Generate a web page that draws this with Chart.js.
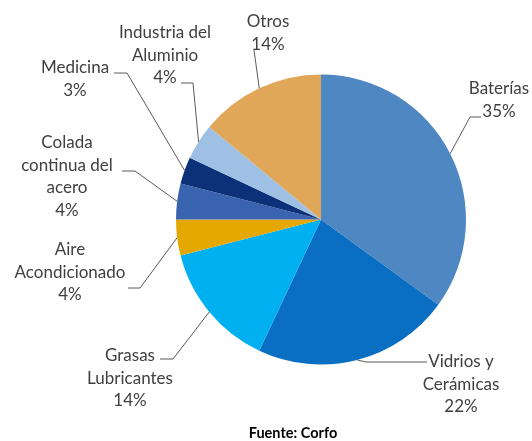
<!DOCTYPE html>
<html>
<head>
<meta charset="utf-8">
<script src="https://cdn.jsdelivr.net/npm/chart.js@4/dist/chart.umd.min.js"></script>
<style>
  html, body { margin: 0; padding: 0; background: #ffffff; }
  #wrap { position: relative; width: 532px; height: 441px; }
</style>
</head>
<body>
<div id="wrap"><canvas id="c" width="532" height="441"></canvas></div>
<script>
// ---- data ----
const categories = ['Baterías', 'Vidrios y Cerámicas', 'Grasas Lubricantes', 'Aire Acondicionado',
                    'Colada continua del acero', 'Medicina', 'Industria del Aluminio', 'Otros'];
const values = [35, 22, 14, 4, 4, 3, 4, 14];
const labelLines = [
  ['Baterías'],
  ['Vidrios y', 'Cerámicas'],
  ['Grasas', 'Lubricantes'],
  ['Aire', 'Acondicionado'],
  ['Colada', 'continua del', 'acero'],
  ['Medicina'],
  ['Industria del', 'Aluminio'],
  ['Otros']
];
const sourceNote = 'Fuente: Corfo';

// ---- styles / layout ----
const colors = ['#4F87C2', '#0A6FC2', '#00B0F0', '#E5A800', '#3A64B0', '#0B3278', '#9EC0E4', '#E0A758'];
const textColor = '#404040';
const lineColor = '#5a5a5a';
const FONT = '17px Lato, "Open Sans", sans-serif';
const LH = 22.5;
// text center x, first line middle y, elbow point, end x of horizontal tick
const labelLayout = [
  { cx: 499, y0: 89,  elbow: [470, 117], endX: 481 },
  { cx: 461, y0: 362, elbow: [366, 362], endX: 427 },
  { cx: 130, y0: 356, elbow: [173, 359], endX: 160 },
  { cx: 70,  y0: 250, elbow: [140, 288], endX: 128 },
  { cx: 67,  y0: 143, elbow: [135, 171], endX: 122 },
  { cx: 75,  y0: 68,  elbow: [127, 73],  endX: 114 },
  { cx: 165, y0: 33,  elbow: [193, 83],  endX: 181 },
  { cx: 268, y0: 22,  elbow: [254, 50],  endX: 254 }
];

const labelPlugin = {
  id: 'outLabels',
  afterDatasetsDraw(chart) {
    const ctx = chart.ctx;
    const meta = chart.getDatasetMeta(0);
    ctx.save();
    ctx.font = FONT;
    ctx.textAlign = 'center';
    ctx.textBaseline = 'middle';
    meta.data.forEach((arc, i) => {
      const p = arc.getProps(['x', 'y', 'startAngle', 'endAngle', 'outerRadius'], true);
      const mid = (p.startAngle + p.endAngle) / 2;
      const sx = p.x + Math.cos(mid) * p.outerRadius;
      const sy = p.y + Math.sin(mid) * p.outerRadius;
      const L = labelLayout[i];
      ctx.strokeStyle = lineColor;
      ctx.lineWidth = 1;
      ctx.beginPath();
      ctx.moveTo(sx, sy);
      ctx.lineTo(L.elbow[0], L.elbow[1]);
      ctx.lineTo(L.endX, L.elbow[1]);
      ctx.stroke();
      ctx.fillStyle = textColor;
      const lines = labelLines[i].concat([values[i] + '%']);
      lines.forEach((t, k) => ctx.fillText(t, L.cx, L.y0 + k * LH));
    });
    ctx.font = 'bold 14.5px Lato, "Open Sans", sans-serif';
    ctx.fillStyle = '#000000';
    ctx.fillText(sourceNote, 293, 433);
    ctx.restore();
  }
};

new Chart(document.getElementById('c'), {
  type: 'pie',
  data: {
    labels: categories,
    datasets: [{
      data: values,
      backgroundColor: colors,
      borderWidth: 0
    }]
  },
  options: {
    responsive: false,
    animation: false,
    layout: { padding: { left: 176, right: 66, top: 74.5, bottom: 76.5 } },
    plugins: {
      legend: { display: false },
      tooltip: { enabled: false }
    }
  },
  plugins: [labelPlugin]
});
</script>
</body>
</html>
